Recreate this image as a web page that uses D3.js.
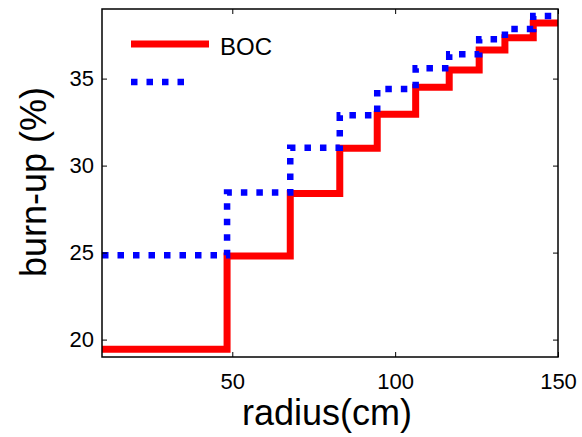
<!DOCTYPE html>
<html lang="en">
<head>
<meta charset="UTF-8">
<title>burn-up vs radius</title>
<script src="https://d3js.org/d3.v7.min.js"></script>
<style>
    body { margin: 0; background: #fff; }
    text { font-family: "Liberation Sans", Arial, sans-serif; fill: #000; }
</style>
</head>
<body>
<div id="chart"></div>
<script>
// step edges (cm) and levels (%)
const edges = [10, 48.4, 67.8, 83, 94.5, 106.3, 116.6, 125.8, 133.7, 142.4, 150];
const bocLevels = [19.45, 24.8, 28.4, 31.0, 32.95, 34.5, 35.5, 36.65, 37.35, 38.2];
const otherLevels = [24.85, 28.45, 31.03, 32.9, 34.4, 35.6, 36.4, 37.26, 37.85, 38.6];
const xTicks = [50, 100, 150];
const yTicks = [20, 25, 30, 35];

const width = 582, height = 437;
const margin = {left: 102, right: 24, top: 9, bottom: 80};

const svg = d3.select("#chart").append("svg")
    .attr("width", width)
    .attr("height", height);

const x = d3.scaleLinear().domain([10, 150]).range([margin.left, width - margin.right]);
const y = d3.scaleLinear().domain([19, 39]).range([height - margin.bottom, margin.top]);

function stepPoints(levels) {
    const pts = [];
    levels.forEach((v, i) => {
        pts.push([edges[i], v]);
        pts.push([edges[i + 1], v]);
    });
    return pts;
}

const line = d3.line().x(d => x(d[0])).y(d => y(d[1]));

svg.append("defs").append("clipPath").attr("id", "clip")
  .append("rect")
    .attr("x", x(10)).attr("y", y(39))
    .attr("width", x(150) - x(10)).attr("height", y(19) - y(39));

const plot = svg.append("g").attr("clip-path", "url(#clip)");

plot.append("path")
    .datum(stepPoints(bocLevels))
    .attr("d", line)
    .attr("fill", "none")
    .attr("stroke", "#ff0000")
    .attr("stroke-width", 7)
    .attr("stroke-linejoin", "miter");

plot.append("path")
    .datum(stepPoints(otherLevels))
    .attr("d", line)
    .attr("fill", "none")
    .attr("stroke", "#0000ff")
    .attr("stroke-width", 6.5)
    .attr("stroke-dasharray", "6.5 9");

// box + inward ticks
const tickLen = 5;
svg.append("g").attr("transform", `translate(0,${y(19)})`)
    .call(d3.axisBottom(x).tickValues(xTicks).tickSize(-tickLen).tickPadding(16))
    .call(g => g.select(".domain").remove());
svg.append("g").attr("transform", `translate(0,${y(39)})`)
    .call(d3.axisTop(x).tickValues(xTicks).tickSize(-tickLen).tickFormat(""))
    .call(g => g.select(".domain").remove());
svg.append("g").attr("transform", `translate(${x(10)},0)`)
    .call(d3.axisLeft(y).tickValues(yTicks).tickSize(-tickLen).tickPadding(8))
    .call(g => g.select(".domain").remove());
svg.append("g").attr("transform", `translate(${x(150)},0)`)
    .call(d3.axisRight(y).tickValues(yTicks).tickSize(-tickLen).tickFormat(""))
    .call(g => g.select(".domain").remove());

svg.selectAll(".tick line").attr("stroke", "#000").attr("stroke-width", 1);
svg.selectAll(".tick text")
    .style("font-family", "'Liberation Sans', Arial, sans-serif")
    .style("font-size", "22px")
    .attr("fill", "#000");

svg.append("rect")
    .attr("x", x(10)).attr("y", y(39))
    .attr("width", x(150) - x(10)).attr("height", y(19) - y(39))
    .attr("fill", "none")
    .attr("stroke", "#000")
    .attr("stroke-width", 1.5);

// axis labels
svg.append("text")
    .attr("x", 327)
    .attr("y", 425)
    .attr("text-anchor", "middle")
    .style("font-size", "36px")
    .text("radius(cm)");

svg.append("text")
    .attr("transform", `translate(46,182) rotate(-90)`)
    .attr("text-anchor", "middle")
    .style("font-size", "36px")
    .text("burn-up (%)");

// legend
const legend = svg.append("g");
legend.append("line")
    .attr("x1", 131).attr("x2", 209).attr("y1", 44).attr("y2", 44)
    .attr("stroke", "#ff0000").attr("stroke-width", 7);
legend.append("text")
    .attr("x", 220).attr("y", 55)
    .style("font-size", "24px")
    .text("BOC");
legend.append("line")
    .attr("x1", 131).attr("x2", 187).attr("y1", 82).attr("y2", 82)
    .attr("stroke", "#0000ff").attr("stroke-width", 6.5)
    .attr("stroke-dasharray", "6.5 9");
</script>
</body>
</html>
